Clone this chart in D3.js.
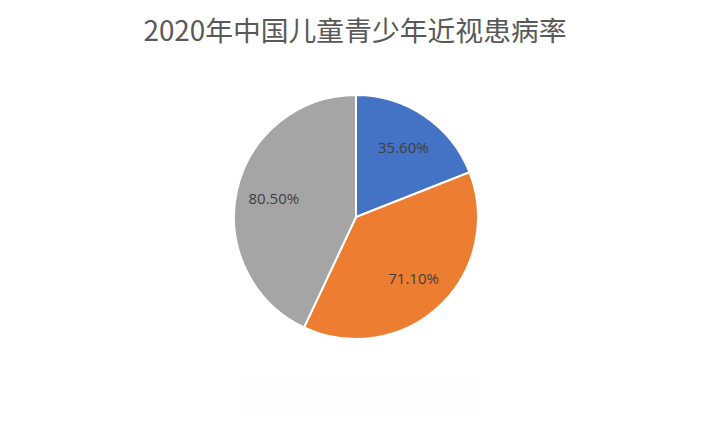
<!DOCTYPE html>
<html>
<head>
<meta charset="utf-8">
<script src="https://cdn.jsdelivr.net/npm/d3@7"></script>
<style>
  body { margin: 0; background: #fff; }
</style>
</head>
<body>
<div id="chart"></div>
<script>
// data
const categories = ["A", "B", "C"];
const values = [35.6, 71.1, 80.5];
const labels = ["35.60%", "71.10%", "80.50%"];
const colors = ["#4472C4", "#ED7D31", "#A5A5A5"];

const width = 709, height = 427;
const cx = 356, cy = 217, radius = 122;

const svg = d3.select("#chart")
  .append("svg")
    .attr("width", width)
    .attr("height", height);

// title
svg.append("text")
    .attr("x", 355)
    .attr("y", 41)
    .attr("text-anchor", "middle")
    .style("font-family", "'Noto Sans CJK SC', sans-serif")
    .style("font-size", "27.8px")
    .style("fill", "#595959")
    .text("2020年中国儿童青少年近视患病率");

// faint empty legend box
svg.append("rect")
    .attr("x", 240).attr("y", 383)
    .attr("width", 240).attr("height", 26)
    .style("fill", "#fdfdfd");

const g = svg.append("g")
    .attr("transform", `translate(${cx},${cy})`);

const pie = d3.pie().sort(null).value(function(d, i) { return values[i]; });
const arcs = pie(categories);

const arc = d3.arc().innerRadius(0).outerRadius(radius);
const labelArc = d3.arc().innerRadius(radius * 0.69).outerRadius(radius * 0.69);

g.selectAll("path")
  .data(arcs)
  .join("path")
    .attr("d", arc)
    .style("fill", function(d, i) { return colors[i]; })
    .style("stroke", "#fff")
    .style("stroke-width", 2);

g.selectAll(".label")
  .data(arcs)
  .join("text")
    .attr("class", "label")
    .attr("transform", function(d) { return `translate(${labelArc.centroid(d)})`; })
    .attr("text-anchor", "middle")
    .attr("dy", "0.35em")
    .style("font-family", "'Open Sans', 'DejaVu Sans', sans-serif")
    .style("font-size", "15px")
    .style("fill", "#404040")
    .text(function(d, i) { return labels[i]; });
</script>
</body>
</html>
